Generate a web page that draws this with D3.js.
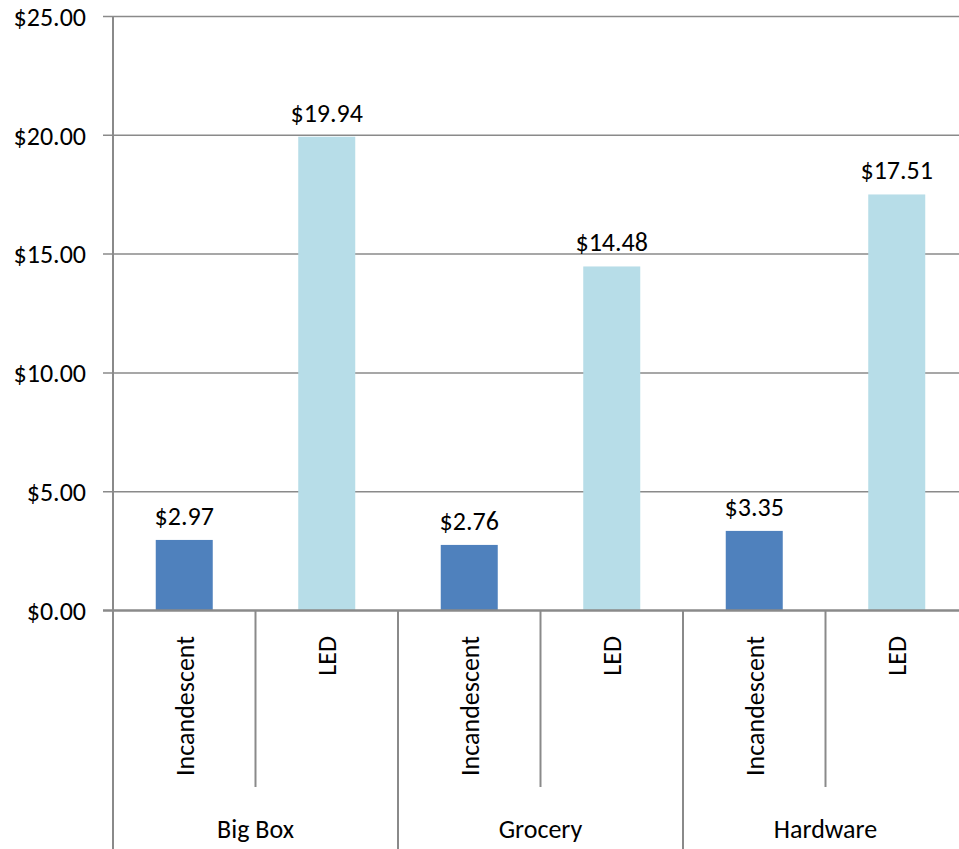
<!DOCTYPE html>
<html>
<head>
<meta charset="utf-8">
<script src="https://cdn.jsdelivr.net/npm/d3@7/dist/d3.min.js"></script>
<style>
  html, body { margin: 0; padding: 0; background: #fff; overflow: hidden; }
  svg { display: block; }
  text { font-family: Carlito, Calibri, Lato, "Liberation Sans", sans-serif; fill: #000; }
</style>
</head>
<body>
<svg id="chart" width="959" height="849"></svg>
<script>
// Store types and bulb kinds
const groups = ["Big Box", "Grocery", "Hardware"];
const bulbs = ["Incandescent", "LED"];

// Average price per bulb, one array per store type (Incandescent, LED)
const bigBox = [2.97, 19.94];
const grocery = [2.76, 14.48];
const hardware = [3.35, 17.51];

// Value axis ticks
const yTicks = [0, 5, 10, 15, 20, 25];

const seriesByGroup = { "Big Box": bigBox, "Grocery": grocery, "Hardware": hardware };
const rows = groups.flatMap(g => bulbs.map((b, i) => ({ group: g, bulb: b, value: seriesByGroup[g][i] })));

const colors = { "Incandescent": "#4F81BD", "LED": "#B7DDE8" };
const gridColor = "#8a8a8a";
const fontSize = 26;

const plotLeft = 113, plotRight = 968, plotTop = 16.5, base = 610.5, plotBottom = 849;

const svg = d3.select("#chart");

const y = d3.scaleLinear().domain([0, 25]).range([base, plotTop]);
const x0 = d3.scaleBand().domain(groups).range([plotLeft, plotRight]).padding(0);
const x1 = d3.scaleBand().domain(bulbs).range([0, x0.bandwidth()])
  .paddingInner(0.6).paddingOuter(0.3);

// Horizontal gridlines (with tick stubs left of the axis)
svg.append("g").selectAll("line").data(yTicks.filter(t => t > 0)).join("line")
  .attr("x1", plotLeft - 10).attr("x2", plotRight)
  .attr("y1", d => y(d)).attr("y2", d => y(d))
  .attr("stroke", gridColor).attr("stroke-width", 1.5);

// Tick labels on the value axis
svg.append("g").selectAll("text").data(yTicks).join("text")
  .attr("x", 86).attr("y", d => y(d))
  .attr("dy", "0.36em")
  .attr("text-anchor", "end")
  .style("font-size", fontSize + "px")
  .text(d => "$" + d3.format(".2f")(d));

// Bars
svg.append("g").selectAll("rect").data(rows).join("rect")
  .attr("x", d => x0(d.group) + x1(d.bulb))
  .attr("width", x1.bandwidth())
  .attr("y", d => y(d.value))
  .attr("height", d => y(0) - y(d.value))
  .attr("fill", d => colors[d.bulb]);

// Value labels above bars
svg.append("g").selectAll("text").data(rows).join("text")
  .attr("x", d => x0(d.group) + x1(d.bulb) + x1.bandwidth() / 2)
  .attr("y", d => y(d.value) - 15)
  .attr("text-anchor", "middle")
  .style("font-size", fontSize + "px")
  .text(d => "$" + d3.format(".2f")(d.value));

// Value axis line
svg.append("line")
  .attr("x1", plotLeft).attr("x2", plotLeft).attr("y1", plotTop).attr("y2", base)
  .attr("stroke", gridColor).attr("stroke-width", 2);

// Category axis line
svg.append("line")
  .attr("x1", plotLeft - 10).attr("x2", plotRight).attr("y1", base).attr("y2", base)
  .attr("stroke", gridColor).attr("stroke-width", 2.5);

// Group separators (full height) and inner category separators
const groupEdges = groups.map(g => x0(g)).concat([x0(groups[groups.length - 1]) + x0.bandwidth()]);
svg.append("g").selectAll("line").data(groupEdges).join("line")
  .attr("x1", d => d).attr("x2", d => d)
  .attr("y1", base).attr("y2", plotBottom)
  .attr("stroke", gridColor).attr("stroke-width", 2);

const innerEdges = groups.map(g => x0(g) + x0.bandwidth() / 2);
svg.append("g").selectAll("line").data(innerEdges).join("line")
  .attr("x1", d => d).attr("x2", d => d)
  .attr("y1", base).attr("y2", 787)
  .attr("stroke", gridColor).attr("stroke-width", 2);

// Rotated bulb labels
svg.append("g").selectAll("text").data(rows).join("text")
  .attr("transform", d => {
    const cx = x0(d.group) + x1.step() * (bulbs.indexOf(d.bulb) + 0.5);
    return `translate(${cx},636) rotate(-90)`;
  })
  .attr("dy", "0.36em")
  .attr("text-anchor", "end")
  .style("font-size", fontSize + "px")
  .text(d => d.bulb);

// Store type labels
svg.append("g").selectAll("text").data(groups).join("text")
  .attr("x", d => x0(d) + x0.bandwidth() / 2)
  .attr("y", 838)
  .attr("text-anchor", "middle")
  .style("font-size", fontSize + "px")
  .text(d => d);
</script>
</body>
</html>
